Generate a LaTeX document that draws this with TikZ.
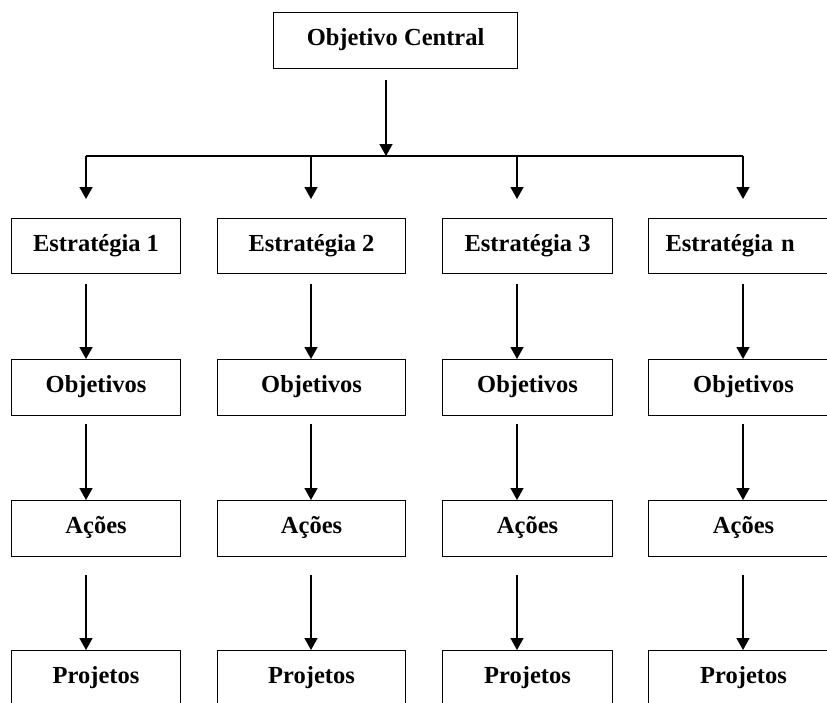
\documentclass[tikz,border=0pt]{standalone}
\usepackage{fontspec}
\setmainfont{Liberation Serif}
\usetikzlibrary{arrows.meta}
\begin{document}
\begin{tikzpicture}[x=1pt,y=-1pt,
  box/.style={draw,line width=1.1pt,anchor=north west,inner sep=0pt,
    minimum height=56pt,text height=10pt,text depth=0pt,
    font=\fontsize{24.5}{28}\selectfont\bfseries},
  arr/.style={line width=1.6pt,-{Triangle[length=12pt,width=13pt]}},
  bar/.style={line width=1.3pt}]
\useasboundingbox (0,0) rectangle (827,702);
\clip (0,0) rectangle (827,702);
% top
\node[box,minimum width=244pt] (top) at (273,12) {Objetivo Central};
\coordinate (hub) at (386,156);
\coordinate (a1) at (86,156);
\coordinate (a2) at (311,156);
\coordinate (a3) at (517,156);
\coordinate (a4) at (743,156);
% strategy row
\node[box,minimum width=169pt,minimum height=55pt] (e1) at (11,218) {Estratégia 1};
\node[box,minimum width=188pt,minimum height=55pt] (e2) at (217,218) {Estratégia 2};
\node[box,minimum width=170pt,minimum height=55pt] (e3) at (442,218) {Estratégia 3};
\node[box,minimum width=190pt,minimum height=55pt,text width=156pt,align=left,inner xsep=17pt] (e4) at (648,218) {Estratégia n};
% objetivos row
\node[box,minimum width=169pt] (o1) at (11,359) {Objetivos};
\node[box,minimum width=188pt] (o2) at (217,359) {Objetivos};
\node[box,minimum width=170pt] (o3) at (442,359) {Objetivos};
\node[box,minimum width=190pt] (o4) at (648,359) {Objetivos};
% acoes row
\node[box,minimum width=169pt] (c1) at (11,500) {Ações};
\node[box,minimum width=188pt] (c2) at (217,500) {Ações};
\node[box,minimum width=170pt] (c3) at (442,500) {Ações};
\node[box,minimum width=190pt] (c4) at (648,500) {Ações};
% projetos row
\node[box,minimum width=169pt] (p1) at (11,650) {Projetos};
\node[box,minimum width=188pt] (p2) at (217,650) {Projetos};
\node[box,minimum width=170pt] (p3) at (442,650) {Projetos};
\node[box,minimum width=190pt] (p4) at (648,650) {Projetos};
% connectors
\draw[arr] ([yshift=-11pt]top.south -| hub) -- (hub);
\draw[bar] (a1) -- (a4);
\foreach \i in {1,2,3,4}{
  \draw[arr] (a\i) -- ([yshift=19pt]e\i.north -| a\i);
  \draw[arr] ([yshift=-10pt]e\i.south -| a\i) -- (o\i.north -| a\i);
  \draw[arr] ([yshift=-8pt]o\i.south -| a\i) -- (c\i.north -| a\i);
  \draw[arr] ([yshift=-18pt]c\i.south -| a\i) -- (p\i.north -| a\i);
}
\end{tikzpicture}
\end{document}
